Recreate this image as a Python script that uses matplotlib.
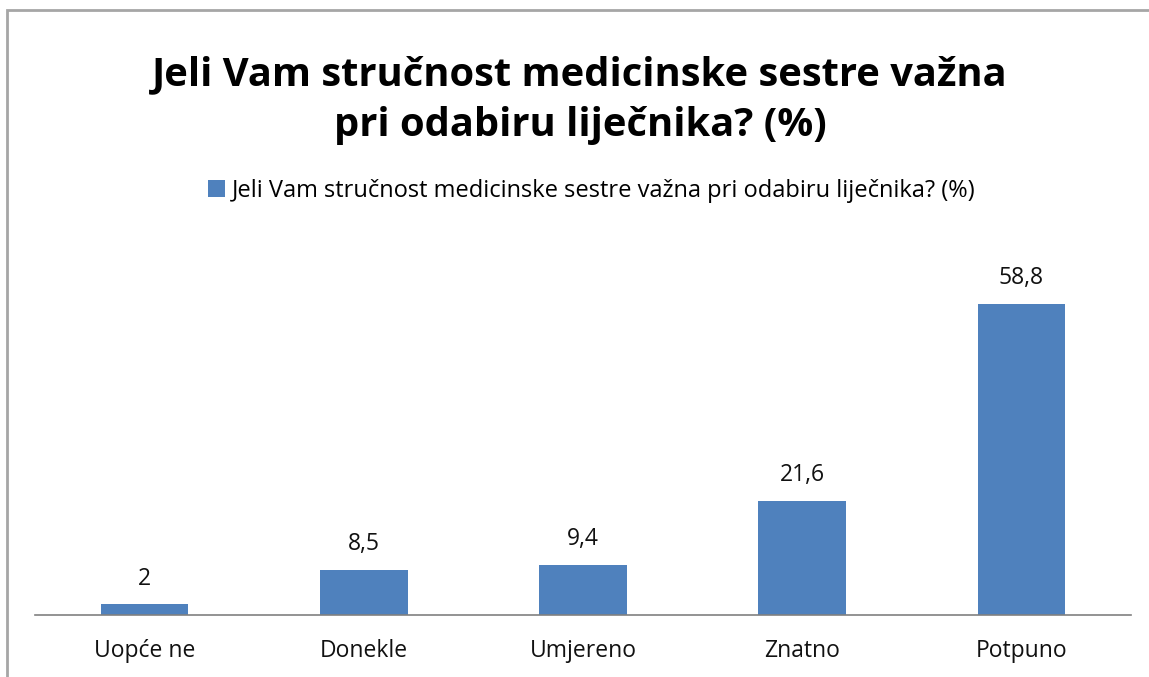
import matplotlib
matplotlib.use("Agg")
import matplotlib.pyplot as plt
from matplotlib.patches import Rectangle

categories = ["Uopće ne", "Donekle", "Umjereno", "Znatno", "Potpuno"]
values = [2, 8.5, 9.4, 21.6, 58.8]
value_labels = ["2", "8,5", "9,4", "21,6", "58,8"]
title = "Jeli Vam stručnost medicinske sestre važna\npri odabiru liječnika? (%)"
series_name = "Jeli Vam stručnost medicinske sestre važna pri odabiru liječnika? (%)"

W, H = 1149, 677
fig = plt.figure(figsize=(W / 100, H / 100), dpi=100)
fig.patch.set_facecolor("white")

# outer border
fig.add_artist(Rectangle((7 / W, -0.05), 1.2, 1 - 10 / H + 0.05, transform=fig.transFigure,
                         fill=False, edgecolor="#a6a6a6", linewidth=2))

ax = fig.add_axes([35 / W, (H - 615) / H, (1131 - 35) / W, (615 - 271) / H])
x = list(range(len(categories)))
bars = ax.bar(x, values, width=0.4, color="#4f81bd", label=series_name, zorder=2)
ax.set_xlim(-0.5, len(categories) - 0.5)
ax.set_ylim(0, 65)
for s in ["top", "right", "left"]:
    ax.spines[s].set_visible(False)
ax.spines["bottom"].set_color("#808080")
ax.spines["bottom"].set_linewidth(1.2)
ax.set_yticks([])
ax.set_xticks(x)
ax.set_xticklabels(categories, fontsize=16.5, family="Open Sans", color="#111111")
ax.tick_params(axis="x", length=0, pad=17)

for xi, v, lab in zip(x, values, value_labels):
    ax.annotate(lab, (xi, v), xytext=(0, 10), textcoords="offset points",
                ha="center", va="bottom", fontsize=16.5, family="Open Sans", color="#111111")

fig.text(580 / W, 1 - 100 / H, title, ha="center", va="center", fontsize=28.7,
         fontweight="bold", family="Open Sans", linespacing=1.38)

handles, labels = ax.get_legend_handles_labels()
leg = fig.legend(handles, labels, loc="center", bbox_to_anchor=(592 / W, 1 - 191 / H),
                 frameon=False, handlelength=0.7, handleheight=0.7,
                 handletextpad=0.3, prop={"family": "Open Sans", "size": 17})

fig.savefig("out.png", dpi=100, facecolor="white")
